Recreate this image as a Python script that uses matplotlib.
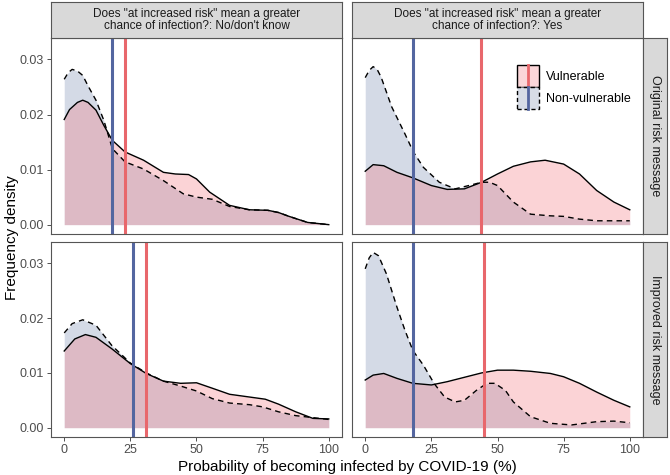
import numpy as np
import matplotlib
matplotlib.use("Agg")
import matplotlib.pyplot as plt
from matplotlib.legend_handler import HandlerBase
from matplotlib.patches import Rectangle
from matplotlib.lines import Line2D

plt.rcParams['font.family'] = ['Liberation Sans', 'DejaVu Sans']

col_titles = ['Does "at increased risk" mean a greater\nchance of infection?: No/don\'t know',
              'Does "at increased risk" mean a greater\nchance of infection?: Yes']
row_titles = ['Original risk message', 'Improved risk message']
groups = ['Vulnerable', 'Non-vulnerable']
xticks = [0, 25, 50, 75, 100]
yticks = [0.00, 0.01, 0.02, 0.03]
xlabel = 'Probability of becoming infected by COVID-19 (%)'
ylabel = 'Frequency density'

# ---- top-left: original / No-don't know
tl_vul_x = [0, 2, 5, 7, 9, 12, 15, 18.2, 23, 30, 37.5, 42, 47, 50, 55, 62.5, 70, 77, 81, 85, 92, 100]
tl_vul_y = [0.0191, 0.0209, 0.0222, 0.0226, 0.0222, 0.0208, 0.0180, 0.0153, 0.0132, 0.0117,
            0.0095, 0.0092, 0.0091, 0.0083, 0.0059, 0.0035, 0.0027, 0.0026, 0.0022, 0.0015,
            0.0004, 0.0000]
tl_non_x = [0, 1.5, 3, 5, 7, 9, 12, 15, 18.2, 23, 30, 37.5, 45, 50, 56, 62.5, 70, 77, 81, 85, 92, 100]
tl_non_y = [0.0264, 0.0276, 0.0282, 0.0279, 0.0271, 0.0252, 0.0226, 0.0189, 0.0138, 0.0114,
            0.0101, 0.0080, 0.0056, 0.0050, 0.0046, 0.0033, 0.0027, 0.0026, 0.0022, 0.0015,
            0.0004, 0.0000]

# ---- top-right: original / Yes
tr_vul_x = [0, 3, 7, 12, 18, 25, 31, 37.5, 44, 50, 56, 62.5, 68, 75, 81, 87.5, 94, 100]
tr_vul_y = [0.0097, 0.0109, 0.0107, 0.0095, 0.0085, 0.0071, 0.0064, 0.0065, 0.0077, 0.0092,
            0.0106, 0.0114, 0.0117, 0.0110, 0.0092, 0.0062, 0.0041, 0.0027]
tr_non_x = [0, 1.5, 3, 4.5, 6, 10, 15, 18.2, 22, 28, 34, 40, 44, 47, 50, 56, 62.5, 70, 75, 81, 87.5, 100]
tr_non_y = [0.0267, 0.0280, 0.0287, 0.0282, 0.0268, 0.0214, 0.0165, 0.0132, 0.0104, 0.0077,
            0.0065, 0.0072, 0.0077, 0.0077, 0.0071, 0.0041, 0.0019, 0.0016, 0.0015, 0.0010,
            0.0007, 0.0007]

# ---- bottom-left: improved / No-don't know
bl_vul_x = [0, 4, 8, 12, 18, 25, 31, 37.5, 44, 50, 56, 62.5, 70, 76, 81, 87.5, 94, 100]
bl_vul_y = [0.0140, 0.0162, 0.0170, 0.0165, 0.0144, 0.0117, 0.0099, 0.0085, 0.0081, 0.0082,
            0.0072, 0.0061, 0.0056, 0.0052, 0.0043, 0.0029, 0.0017, 0.0016]
bl_non_x = [0, 3, 7, 12, 18, 25, 31, 37.5, 44, 50, 56, 62.5, 70, 75, 81, 87.5, 100]
bl_non_y = [0.0173, 0.0190, 0.0197, 0.0187, 0.0150, 0.0118, 0.0100, 0.0085, 0.0076, 0.0067,
            0.0053, 0.0045, 0.0042, 0.0038, 0.0029, 0.0022, 0.0015]

# ---- bottom-right: improved / Yes
br_vul_x = [0, 3, 7, 12, 18, 25, 31, 37.5, 44, 50, 56, 62.5, 70, 75, 81, 87.5, 94, 100]
br_vul_y = [0.0087, 0.0096, 0.0099, 0.0090, 0.0081, 0.0078, 0.0084, 0.0092, 0.0100, 0.0105,
            0.0105, 0.0103, 0.0099, 0.0093, 0.0081, 0.0065, 0.0050, 0.0038]
br_non_x = [0, 1.5, 3, 5, 8, 12, 15, 18, 22, 26, 30, 34, 37.5, 42, 46, 49, 53, 56, 62.5, 70, 78,
            87.5, 94, 100]
br_non_y = [0.0290, 0.0310, 0.0320, 0.0314, 0.0281, 0.0220, 0.0178, 0.0141, 0.0114, 0.0081,
            0.0056, 0.0047, 0.0050, 0.0068, 0.0081, 0.0081, 0.0068, 0.0047, 0.0020, 0.0008,
            0.0005, 0.0011, 0.0012, 0.0009]

# group means (vertical lines)
means_vul = [[23.1, 43.8], [31.0, 44.9]]
means_non = [[18.2, 18.2], [26.1, 18.2]]

curves = [[(tl_vul_x, tl_vul_y, tl_non_x, tl_non_y), (tr_vul_x, tr_vul_y, tr_non_x, tr_non_y)],
          [(bl_vul_x, bl_vul_y, bl_non_x, bl_non_y), (br_vul_x, br_vul_y, br_non_x, br_non_y)]]

pink_fill = '#F2707A'
blue_fill = '#566C9E'
red_line = '#E8676C'
blue_line = '#5466A0'

W, H = 670, 475
fig = plt.figure(figsize=(6.7, 4.75), dpi=100)

col_x = [(51, 342), (352, 643)]
row_y = [(38, 234), (242, 437)]

def fr(x0, y0, x1, y1):
    return [x0 / W, 1 - y1 / H, (x1 - x0) / W, (y1 - y0) / H]

strip_col = '#D9D9D9'

axes = {}
for r in range(2):
    for c in range(2):
        x0, x1 = col_x[c]
        y0, y1 = row_y[r]
        ax = fig.add_axes(fr(x0, y0, x1, y1))
        axes[(r, c)] = ax
        vx, vy, nx, ny = curves[r][c]
        ax.fill_between(nx, 0, ny, color=blue_fill, alpha=0.25, lw=0)
        ax.fill_between(vx, 0, vy, color=pink_fill, alpha=0.30, lw=0)
        ax.plot(vx, vy, color='black', lw=1.0, solid_joinstyle='round')
        ax.plot(nx, ny, color='black', lw=1.0, ls=(0, (4, 3)))
        ax.axvline(means_non[r][c], color=blue_line, lw=2.2)
        ax.axvline(means_vul[r][c], color=red_line, lw=2.2)
        ax.set_xlim(-5, 105)
        ax.set_ylim(-0.0017, 0.0339)
        ax.set_xticks(xticks)
        ax.set_yticks(yticks)
        ax.tick_params(axis='both', length=3, width=0.6, color='#333333',
                       labelsize=9, labelcolor='#4D4D4D', pad=2)
        if c == 0:
            ax.set_yticklabels(['%.2f' % v for v in yticks])
        else:
            ax.set_yticklabels([])
            ax.tick_params(axis='y', length=0)
        if r == 0:
            ax.set_xticklabels([])
            ax.tick_params(axis='x', length=0)
        for s in ax.spines.values():
            s.set_color('#555555')
            s.set_linewidth(0.8)

# strips on top
for c in range(2):
    x0, x1 = col_x[c]
    sax = fig.add_axes(fr(x0, 2, x1, 38))
    sax.set_facecolor(strip_col)
    sax.set_xticks([]); sax.set_yticks([])
    for s in sax.spines.values():
        s.set_color('#555555'); s.set_linewidth(0.8)
    sax.text(0.5, 0.5, col_titles[c], ha='center', va='center', fontsize=8.5,
             color='#1A1A1A', transform=sax.transAxes, linespacing=1.1)

# strips on right
for r in range(2):
    y0, y1 = row_y[r]
    sax = fig.add_axes(fr(643, y0, 667, y1))
    sax.set_facecolor(strip_col)
    sax.set_xticks([]); sax.set_yticks([])
    for s in sax.spines.values():
        s.set_color('#555555'); s.set_linewidth(0.8)
    sax.text(0.5, 0.5, row_titles[r], ha='center', va='center', fontsize=9,
             color='#1A1A1A', rotation=-90, transform=sax.transAxes)

fig.text((51 + 643) / 2 / W, 1 - 467 / H, xlabel, ha='center', va='center', fontsize=11)
fig.text(12 / W, 1 - 238 / H, ylabel, ha='center', va='center', fontsize=11, rotation=90)


class KeyHandler(HandlerBase):
    def __init__(self, face, line_col, ls):
        super().__init__()
        self.face, self.line_col, self.ls = face, line_col, ls

    def create_artists(self, legend, orig_handle, xdescent, ydescent, width, height,
                       fontsize, trans):
        rect = Rectangle((-xdescent, -ydescent), width, height, facecolor=self.face,
                         edgecolor='black', lw=1.0, ls=self.ls, transform=trans)
        ln = Line2D([width / 2 - xdescent] * 2, [-ydescent, height - ydescent],
                    color=self.line_col, lw=2.0, transform=trans)
        return [rect, ln]


h1 = Rectangle((0, 0), 1, 1)
h2 = Rectangle((0, 0), 1, 1)
leg = axes[(0, 1)].legend([h1, h2], groups,
                          handler_map={h1: KeyHandler('#FBD6D9', red_line, '-'),
                                       h2: KeyHandler('#D7DCE6', blue_line, (0, (3, 2)))},
                          loc='upper left', bbox_to_anchor=(0.567, 0.862), frameon=False,
                          fontsize=9, handlelength=1.75, handleheight=2.3,
                          labelspacing=0.0, handletextpad=0.6, borderaxespad=0,
                          borderpad=0)

fig.savefig('out.png', dpi=100, facecolor='white')
